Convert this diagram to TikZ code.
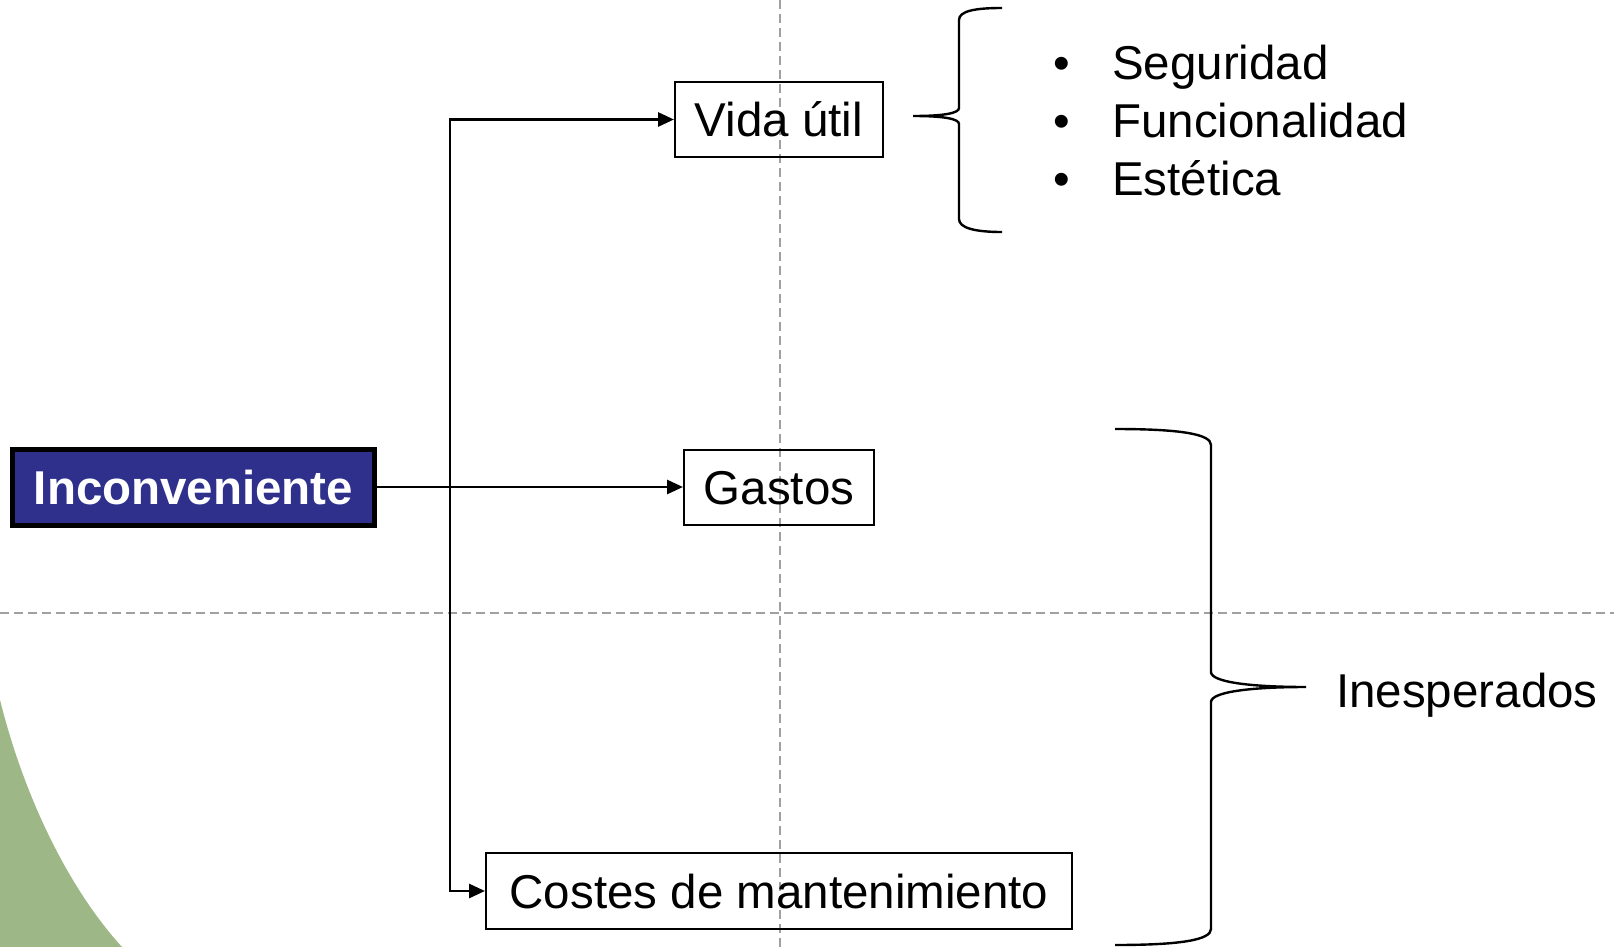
\documentclass[tikz,border=0pt]{standalone}
\usepackage{fontspec}
\setmainfont{Liberation Sans}
\usetikzlibrary{arrows.meta}
\definecolor{incblue}{RGB}{46,48,140}
\definecolor{bggreen}{RGB}{157,183,134}
\definecolor{guidegray}{RGB}{160,160,160}
\begin{document}
\begin{tikzpicture}[x=1pt,y=-1pt,
  every node/.style={font=\fontsize{47.5}{56}\selectfont},
  box/.style={draw=black, line width=2pt, inner sep=0pt, text height=34pt, text depth=0pt},
  incbox/.style={draw=black, fill=incblue, line width=5pt, inner sep=0pt, text height=34pt, text depth=0pt, text=white, font=\fontsize{47.5}{56}\selectfont\bfseries},
  conn/.style={draw=black, line width=2.8pt, -{Triangle[length=16pt,width=14pt]}},
  bracepath/.style={draw=black, line width=2.4pt},
  guide/.style={draw=guidegray, line width=2.5pt, dash pattern=on 9pt off 5pt},
  plain/.style={anchor=base west, inner sep=0pt}]
\useasboundingbox (0,0) rectangle (1614,947);
\fill[white] (0,0) rectangle (1614,947);
% green background shape
\fill[bggreen] (0,700) .. controls (25,800) and (70,890) .. (122,947) -- (0,947) -- cycle;
% guide lines
\draw[guide] (0,613) -- (1614,613);
\draw[guide] (780,0) -- (780,947);
% nodes
\node[incbox, minimum width=362pt, minimum height=76pt] (inc) at (193.5,487) {Inconveniente};
\node[box, minimum width=208pt, minimum height=75pt] (vida) at (779,119.5) {Vida útil};
\node[box, minimum width=190pt, minimum height=75pt] (gastos) at (779,487) {Gastos};
\node[box, minimum width=586pt, minimum height=76pt] (costes) at (779,891) {Costes de mantenimiento};
% connectors
\coordinate (j) at (450,487);
\draw[conn] (inc.east) -- (gastos.west);
\draw[conn] (j) |- (vida.west);
\draw[conn] (j) |- (costes.west);
% left brace near Vida util
\draw[bracepath] (1002,8) .. controls (975,8) and (959,11) .. (959,20) -- (959,108)
  .. controls (959,113) and (945,116) .. (913,116)
  .. controls (945,116) and (959,119) .. (959,124) -- (959,219)
  .. controls (959,228) and (975,232) .. (1002,232);
% bullet list
\node[plain] (b1) at (1053,80) {•};
\node[plain] (b2) at (1053,138) {•};
\node[plain] (b3) at (1053,195) {•};
\node[plain] (t1) at (1112,80) {Seguridad};
\node[plain] (t2) at (1112,138) {Funcionalidad};
\node[plain] (t3) at (1112,195) {Estética};
% right brace
\draw[bracepath] (1115,429) .. controls (1180,429) and (1211,434) .. (1211,445) -- (1211,672)
  .. controls (1211,682) and (1250,687) .. (1306,687)
  .. controls (1250,687) and (1211,692) .. (1211,702) -- (1211,929)
  .. controls (1211,940) and (1180,945) .. (1115,945);
\node[plain] (ines) at (1336,707) {Inesperados};
\end{tikzpicture}
\end{document}
